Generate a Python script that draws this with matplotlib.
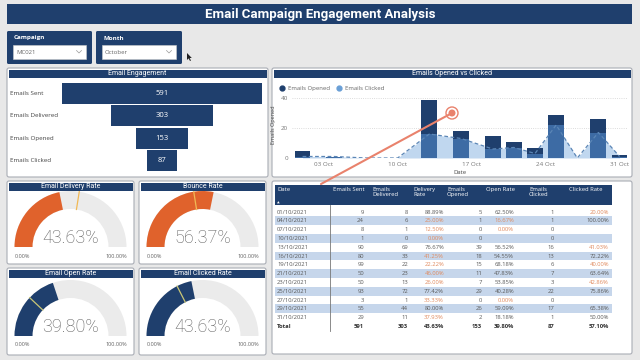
import matplotlib
matplotlib.use('Agg')
import matplotlib.pyplot as plt
from matplotlib.patches import FancyBboxPatch, Rectangle, Wedge, Circle, Polygon
from matplotlib.lines import Line2D
from matplotlib import transforms
import numpy as np

plt.rcParams['font.family'] = ['Open Sans', 'DejaVu Sans']

# ---- data ----
campaign = 'MC021'
month = 'October'

funnel_labels = ['Emails Sent', 'Emails Delivered', 'Emails Opened', 'Emails Clicked']
funnel_values = [591, 303, 153, 87]

dates = ['01/10/2021', '04/10/2021', '07/10/2021', '10/10/2021', '13/10/2021',
         '16/10/2021', '19/10/2021', '21/10/2021', '23/10/2021', '25/10/2021',
         '27/10/2021', '29/10/2021', '31/10/2021']
sent = [9, 24, 8, 1, 90, 80, 99, 50, 50, 93, 3, 55, 29]
delivered = [8, 6, 1, 0, 69, 33, 22, 23, 13, 72, 1, 44, 11]
opened = [5, 1, 0, 0, 39, 18, 15, 11, 7, 29, 0, 26, 2]
clicked = [1, 1, 0, 0, 16, 13, 6, 7, 3, 22, 0, 17, 1]
total_row = ['Total', '591', '303', '43.63%', '153', '39.80%', '87', '57.10%']

table_headers = ['Date', 'Emails Sent', 'Emails\nDelivered', 'Delivery\nRate',
                 'Emails\nOpened', 'Open Rate', 'Emails\nClicked', 'Clicked Rate']

gauge_titles = ['Email Delivery Rate', 'Bounce Rate', 'Email Open Rate', 'Email Clicked Rate']
gauge_values = [43.63, 56.37, 39.80, 43.63]
gauge_targets = [55.0, 45.0, 24.0, 35.0]

# ---- styles ----
W, H = 640, 360
NAVY = '#1f3f6d'
ORANGE = '#e0622c'
ORANGE_TXT = '#e08a5e'
GREY_TXT = '#5a5a5a'

fig = plt.figure(figsize=(6.4, 3.6), dpi=100)
fig.patch.set_facecolor('#e8e8e8')
bg = fig.add_axes([0, 0, 1, 1])
bg.set_xlim(0, W)
bg.set_ylim(H, 0)
bg.axis('off')


def px_axes(x0, y0, x1, y1):
    ax = fig.add_axes([x0 / W, 1 - y1 / H, (x1 - x0) / W, (y1 - y0) / H])
    ax.patch.set_alpha(0)
    return ax


def panel(x0, y0, x1, y1, title=None):
    bg.add_patch(FancyBboxPatch((x0, y0), x1 - x0, y1 - y0,
                                boxstyle='round,pad=0,rounding_size=2',
                                fc='white', ec='#a9adb5', lw=0.8))
    if title:
        bg.add_patch(Rectangle((x0 + 1.5, y0 + 1.5), x1 - x0 - 3, 8.5, fc=NAVY, ec='none'))
        bg.text((x0 + x1) / 2, y0 + 5.8, title, color='white', fontsize=5,
                ha='center', va='center', family=['Roboto', 'DejaVu Sans'])


# title bar
bg.add_patch(Rectangle((7, 4), 625, 20, fc=NAVY, ec='none'))
bg.text(320, 14.5, 'Email Campaign Engagement Analysis', color='white', fontsize=9.5,
        fontweight='bold', ha='center', va='center', family=['Roboto', 'DejaVu Sans'])

# slicers
for (x0, w, label, value) in [(7, 85, 'Campaign', campaign), (96, 86, 'Month', month)]:
    bg.add_patch(FancyBboxPatch((x0, 31), w, 33, boxstyle='round,pad=0,rounding_size=1.5',
                                fc=NAVY, ec='none'))
    bg.text(x0 + 7, 38, label, color='white', fontsize=4.5, fontweight='bold', va='center')
    bg.add_patch(Rectangle((x0 + 6, 45), w - 12, 14, fc='white', ec='#cccccc', lw=0.4))
    bg.text(x0 + 9, 52.5, value, color='#666666', fontsize=4.3, va='center')
    cx = x0 + w - 13
    bg.plot([cx - 2.5, cx, cx + 2.5], [50.5, 53, 50.5], color='#999999', lw=0.5)

# mouse cursor
bg.add_patch(Polygon([(187, 53), (187, 60), (188.6, 58.4), (190, 61), (191, 60.5),
                      (189.6, 58), (191.8, 58)], closed=True, fc='#222222', ec='none'))

# ---- funnel ----
panel(7, 68, 268, 177, 'Email Engagement')
ax_f = px_axes(62, 82, 262, 172)
ypos = np.arange(len(funnel_values))
vals = np.array(funnel_values)
ax_f.barh(ypos, vals, left=-vals / 2, height=0.93, color=NAVY)
ax_f.set_xlim(-max(vals) / 2, max(vals) / 2)
ax_f.set_ylim(len(vals) - 0.5, -0.5)
ax_f.axis('off')
for i, v in enumerate(funnel_values):
    ax_f.text(0, i, str(v), color='white', fontsize=5.5, ha='center', va='center')
blend = transforms.blended_transform_factory(bg.transData, ax_f.transData)
for i, lab in enumerate(funnel_labels):
    bg.text(10, i, lab, transform=blend, fontsize=4.5, color='#444444', va='center')

# ---- combo chart ----
panel(272, 68, 632, 177, 'Emails Opened vs Clicked')
days = [int(d[:2]) for d in dates]
ax_c = px_axes(292, 92, 628, 158)
ax_c.fill_between(days, clicked, color='#c0d7ef', lw=0, zorder=1)
ax_c.bar(days, opened, width=1.5, color=NAVY, zorder=2)
ax_c.bar(days, clicked, width=1.5, color='#3d6ba4', zorder=3)
ax_c.plot(days, clicked, ls=(0, (3, 2)), color='#5b86b6', lw=0.9, zorder=4)
ax_c.set_xlim(0, 31.8)
ax_c.set_ylim(0, 44)
ax_c.set_yticks([0, 20, 40])
ax_c.set_xticks([3, 10, 17, 24, 31])
ax_c.set_xticklabels(['03 Oct', '10 Oct', '17 Oct', '24 Oct', '31 Oct'])
ax_c.tick_params(length=0, labelsize=4.5, labelcolor='#777777', pad=3)
ax_c.grid(axis='y', ls=':', color='#d0d0d0', lw=0.6, zorder=0)
for s in ax_c.spines.values():
    s.set_visible(False)
ax_c.set_xlabel('Date', fontsize=4.2, color='#444444', labelpad=2)
ax_c.set_ylabel('Emails Opened', fontsize=4, color='#444444', labelpad=3)
handles = [Line2D([], [], marker='o', ls='none', color=NAVY, markersize=3.5),
           Line2D([], [], marker='o', ls='none', color='#6a9fd6', markersize=3.5)]
fig.legend(handles, ['Emails Opened', 'Emails Clicked'], loc='center left',
           bbox_to_anchor=(273 / W, 1 - 88 / H), ncol=2, frameon=False, fontsize=4.3,
           handletextpad=0.0, columnspacing=0.5, borderpad=0, labelcolor='#666666')

# ---- gauges ----
gauge_boxes = [(7, 181, 134, 264), (139, 181, 266, 264), (7, 268, 134, 355), (139, 268, 266, 355)]
gauge_colors = [ORANGE, ORANGE, NAVY, NAVY]
target_colors = ['#f1b955', '#f1b955', '#c9c676', '#c9c676']
R, r = 56, 38
for box, title, v, t, col, tcol in zip(gauge_boxes, gauge_titles, gauge_values,
                                      gauge_targets, gauge_colors, target_colors):
    x0, y0, x1, y1 = box
    panel(x0, y0, x1, y1, title)
    cx = (x0 + x1) / 2
    cy = y1 - 17 if y0 < 200 else y1 - 19
    ax = px_axes(cx - 62, cy - 60, cx + 62, cy + 14)
    ax.set_xlim(-62, 62)
    ax.set_ylim(-14, 60)
    ax.axis('off')
    ax.add_patch(Wedge((0, 0), R, 0, 180, width=R - r, fc='#ebebeb', ec='none'))
    ax.add_patch(Wedge((0, 0), R, 180 - 180 * v / 100, 180, width=R - r, fc=col, ec='none'))
    th = np.pi * (1 - t / 100)
    ax.plot([r * np.cos(th), R * np.cos(th)], [r * np.sin(th), R * np.sin(th)],
            color=tcol, lw=0.9)
    ax.text(0, 9, f'{v:.2f}%', fontsize=13, color='#5c5c5c', ha='center', va='center',
            family=['Roboto', 'DejaVu Sans'], fontweight='light')
    ax.text(-48, -9, '0.00%', fontsize=4, color='#666666', ha='center', va='center')
    ax.text(46, -9, '100.00%', fontsize=4, color='#666666', ha='center', va='center')

# ---- table ----
panel(272, 181, 632, 354)
bg.add_patch(Rectangle((275, 185), 337, 20, fc=NAVY, ec='none'))
head_x = [277, 333, 372, 413, 447, 486, 529, 569]
val_x = [277, 364, 408, 444, 482, 514, 554, 609]
for hx, h in zip(head_x, table_headers):
    bg.text(hx, 187, h, color='white', fontsize=4.2, va='top', linespacing=1.1)
bg.text(277, 202.5, '\u25b2', color='white', fontsize=2.5, va='center')


def pct(a, b):
    return '' if b == 0 else f'{100 * a / b:.2f}%'


row0, step = 212, 8.8
for i in range(len(dates)):
    y = row0 + i * step
    if i % 2 == 1:
        bg.add_patch(Rectangle((275, y - step / 2), 337, step, fc='#c6d6eb', ec='none'))
    dr = pct(delivered[i], sent[i])
    orr = pct(opened[i], delivered[i])
    cr = pct(clicked[i], opened[i])
    cells = [dates[i], str(sent[i]), str(delivered[i]), dr, str(opened[i]), orr,
             str(clicked[i]), cr]
    limits = [None, None, None, 50, None, 18, None, 50]
    for j, c in enumerate(cells):
        color = GREY_TXT
        if limits[j] is not None and c and float(c[:-1]) < limits[j]:
            color = ORANGE_TXT
        bg.text(val_x[j], y, c, fontsize=4.2, color=color, va='center',
                ha='left' if j == 0 else 'right')
yt = row0 + len(dates) * step
for j, c in enumerate(total_row):
    bg.text(val_x[j], yt, c, fontsize=4.2, color='#333333', va='center', fontweight='bold',
            ha='left' if j == 0 else 'right')
bg.plot([330, 330], [205, yt + 5], color='#777777', lw=0.6)

# ---- pen annotation overlay ----
ov = fig.add_axes([0, 0, 1, 1])
ov.patch.set_alpha(0)
ov.set_xlim(0, W)
ov.set_ylim(H, 0)
ov.axis('off')
ov.plot([321, 452], [184, 113], color='#e9826c', lw=1.5, solid_capstyle='round')
ov.add_patch(Circle((452, 113), 6, fc='none', ec='#e9826c', lw=1.0))
ov.add_patch(Circle((452, 113), 3.5, fc='#e9826c', ec='none'))

fig.savefig('out.png', dpi=100, facecolor=fig.get_facecolor())
